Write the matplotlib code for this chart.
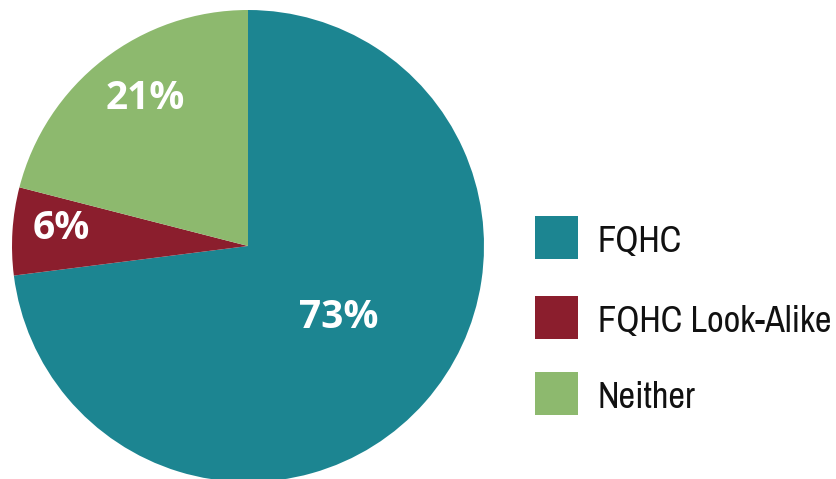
import matplotlib
matplotlib.use("Agg")
import matplotlib.pyplot as plt
from matplotlib.patches import Rectangle
from matplotlib import font_manager
from matplotlib.font_manager import FontProperties

categories = ["FQHC", "FQHC Look-Alike", "Neither"]
shares = [73, 6, 21]
colors = ["#1C8591", "#8B1E2D", "#8DB96E"]
# label anchor points inside the pie (data units, radius = 1)
label_xy = [(0.386, -0.305), (-0.792, 0.076), (-0.436, 0.627)]

W, H = 837, 479
fig = plt.figure(figsize=(W / 100, H / 100), dpi=100)

cx, cy, r = 248, 246, 236
ax = fig.add_axes([(cx - r) / W, (H - cy - r) / H, 2 * r / W, 2 * r / H])
wedges, _ = ax.pie(shares, colors=colors, startangle=90, counterclock=False,
                   radius=1, wedgeprops=dict(linewidth=0))
ax.set_xlim(-1, 1)
ax.set_ylim(-1, 1)
ax.set_aspect("equal")
ax.axis("off")

for v, (x, y) in zip(shares, label_xy):
    ax.text(x, y, f"{v}%", color="white", fontsize=28, fontweight="bold",
            family="Open Sans", ha="center", va="center")

# legend font: a narrow sans if one is available, Roboto otherwise
legend_prop = FontProperties(family="Roboto")
for f in font_manager.fontManager.ttflist:
    fn = f.fname.lower()
    if (("condensed" in fn or "narrow" in fn) and f.weight in (400, "normal", "regular")
            and f.style == "normal" and "dejavu" not in fn):
        legend_prop = FontProperties(fname=f.fname)
        break

lax = fig.add_axes([0, 0, 1, 1])
lax.set_xlim(0, W)
lax.set_ylim(H, 0)
lax.axis("off")

# size the legend text so the longest entry spans ~234 px with caps ~27 px tall
renderer = fig.canvas.get_renderer()
probe_size = 20
legend_prop.set_size(probe_size)
probe = lax.text(0, 0, max(categories, key=len), fontproperties=legend_prop)
wpx = probe.get_window_extent(renderer).width
cap = lax.text(0, 0, "H", fontproperties=legend_prop)
capbb = cap.get_window_extent(renderer)
probe.remove()
cap.remove()
size_w = probe_size * 234 / wpx
size_c = probe_size * 27 / (capbb.height * 0.72)
legend_prop.set_size(min(size_w, size_c))

box_tops = [216, 296, 372]
for name, col, top in zip(categories, colors, box_tops):
    lax.add_patch(Rectangle((535, top), 43, 43, facecolor=col, edgecolor="none"))
    lax.text(598, top + 36, name, fontproperties=legend_prop,
             color="#111111", ha="left", va="baseline")

fig.savefig("out.png", dpi=100)
